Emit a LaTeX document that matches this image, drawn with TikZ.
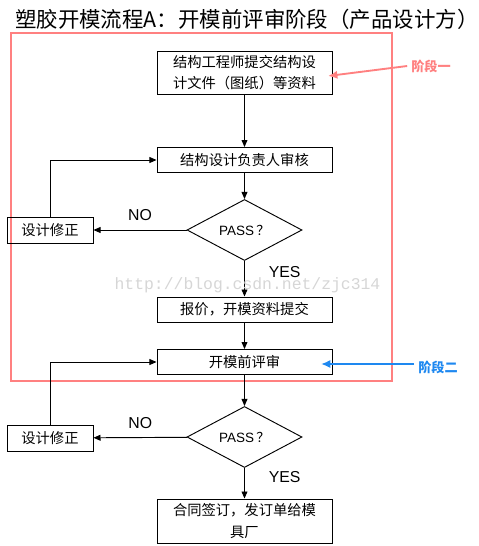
\documentclass[tikz,border=0pt]{standalone}
\usepackage{fontspec}
\setmainfont{Liberation Sans}
\newfontfamily\cjk{Noto Sans CJK SC}
\newfontfamily\wmfont{Liberation Mono}
\usetikzlibrary{
  arrows.meta,
  positioning,
  shapes.geometric
}
\usepackage{xcolor}
\definecolor{stagepink}{HTML}{FF8080}
\definecolor{stageblue}{HTML}{1E88F0}

\begin{document}
\begin{tikzpicture}[
  x=0.03cm, y=-0.03cm,
  step box/.style={draw, line width=0.8pt, minimum width=5.25cm, minimum height=0.75cm,
    inner sep=0pt, font=\cjk\fontsize{12.2}{18}\selectfont, align=center},
  fix box/.style={step box, minimum width=2.58cm, minimum height=0.78cm},
  check/.style={draw, diamond, line width=0.8pt, minimum width=3.45cm, minimum height=1.5cm,
    inner sep=0pt, font=\fontsize{11.5}{13}\selectfont},
  answer/.style={font=\fontsize{13.5}{15}\selectfont},
  arrow/.style={-{Triangle[length=6pt, width=5pt]}, line width=0.8pt},
  stage/.style={font=\cjk\bfseries\fontsize{11.2}{12}\selectfont}
]
  \useasboundingbox (0,0) rectangle (479,546);

  \node[font=\cjk\fontsize{18.3}{20}\selectfont, anchor=west, inner sep=0pt] (title) at (15,19.5)
    {塑胶开模流程A：开模前评审阶段（产品设计方）};

  % stage one frame
  \draw[stagepink, line width=2.2pt] (11,33) rectangle (392,381);

  \node[step box, minimum height=1.29cm] (submit) at (244.5,72.5)
    {结构工程师提交结构设\\计文件（图纸）等资料};
  \node[step box] (audit) at (244.5,160) {结构设计负责人审核};
  \node[check] (pass1) at (244.5,230) {PASS\,{\cjk ？}};
  \node[fix box] (fix1) at (50,230) {设计修正};
  \node[step box] (quote) at (244.5,309.5) {报价，开模资料提交};
  \node[step box] (review) at (244.5,362) {开模前评审};
  \node[check] (pass2) at (244.5,437) {PASS\,{\cjk ？}};
  \node[fix box] (fix2) at (50,438) {设计修正};
  \node[step box, minimum height=1.32cm] (contract) at (244.5,521)
    {合同签订，发订单给模\\具厂};

  \draw[arrow] (submit) -- (audit);
  \draw[arrow] (audit) -- (pass1);
  \draw[arrow] (pass1) -- node[answer, pos=0.3, right=17pt] {YES} (quote);
  \draw[arrow] (pass1) -- node[answer, above=4pt, pos=0.5] {NO} (fix1);
  \draw[arrow] (fix1.north) |- (audit.west);
  \draw[arrow] (quote) -- (review);
  \draw[arrow] (review) -- (pass2);
  \draw[arrow] (pass2) -- node[answer, pos=0.3, right=17pt] {YES} (contract);
  \draw[arrow] (pass2) -- node[answer, above=4pt, pos=0.5] {NO} (fix2);
  \draw[arrow] (fix2.north) |- (review.west);

  % stage labels
  \node[stage, text=stagepink] (stage1) at (431,66) {阶段一};
  \node[stage, text=stageblue] (stage2) at (438,367) {阶段二};
  \draw[stagepink, line width=1.6pt, -{Latex[length=8pt, width=7pt]}]
    (stage1.west) -- (328,76);
  \draw[stageblue, line width=1.6pt, -{Latex[length=8pt, width=7pt]}]
    (stage2.west |- 364,364) -- (321,364);

  \node[text=black!16, font=\wmfont\fontsize{14}{16}\selectfont] (mark) at (247.5,285)
    {http://blog.csdn.net/zjc314};
\end{tikzpicture}
\end{document}
